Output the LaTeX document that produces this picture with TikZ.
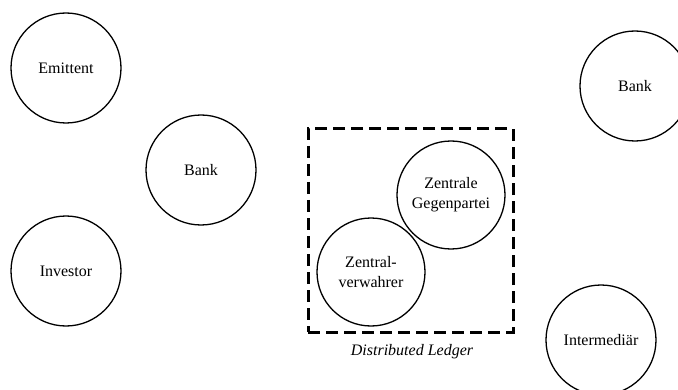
\documentclass[tikz,border=0pt]{standalone}
\usepackage{fontspec}
\setmainfont{Liberation Serif}
\begin{document}
\begin{tikzpicture}[x=1pt,y=1pt,
  party/.style={circle,draw,line width=1.3pt,minimum size=110pt,inner sep=0pt,
    align=center,font=\fontsize{16}{20}\selectfont},
  inner party/.style={party,minimum size=108pt},
  ledger/.style={draw,line width=3pt,dash pattern=on 12pt off 6pt}]
\useasboundingbox (0,0) rectangle (678,389);
\clip (0,0) rectangle (678,389);
% participants outside the ledger
\node[party] (emittent) at (66,321) {Emittent};
\node[party] (bankl) at (201,219) {Bank};
\node[party] (investor) at (66,118) {Investor};
\node[party] (bankr) at (635,303) {Bank};
\node[party] (intermed) at (601,49) {Intermediär};
% distributed ledger with its members
\node[ledger,minimum width=205pt,minimum height=203pt,inner sep=0pt] (dlt) at (410.5,158.5) {};
\node[inner party] (ccp) at (451,194) {Zentrale\\Gegenpartei};
\node[inner party] (csd) at (371,117) {Zentral-\\verwahrer};
\node[font=\fontsize{16}{20}\selectfont\itshape] (dltlabel) at (412,37) {Distributed Ledger};
\end{tikzpicture}
\end{document}
